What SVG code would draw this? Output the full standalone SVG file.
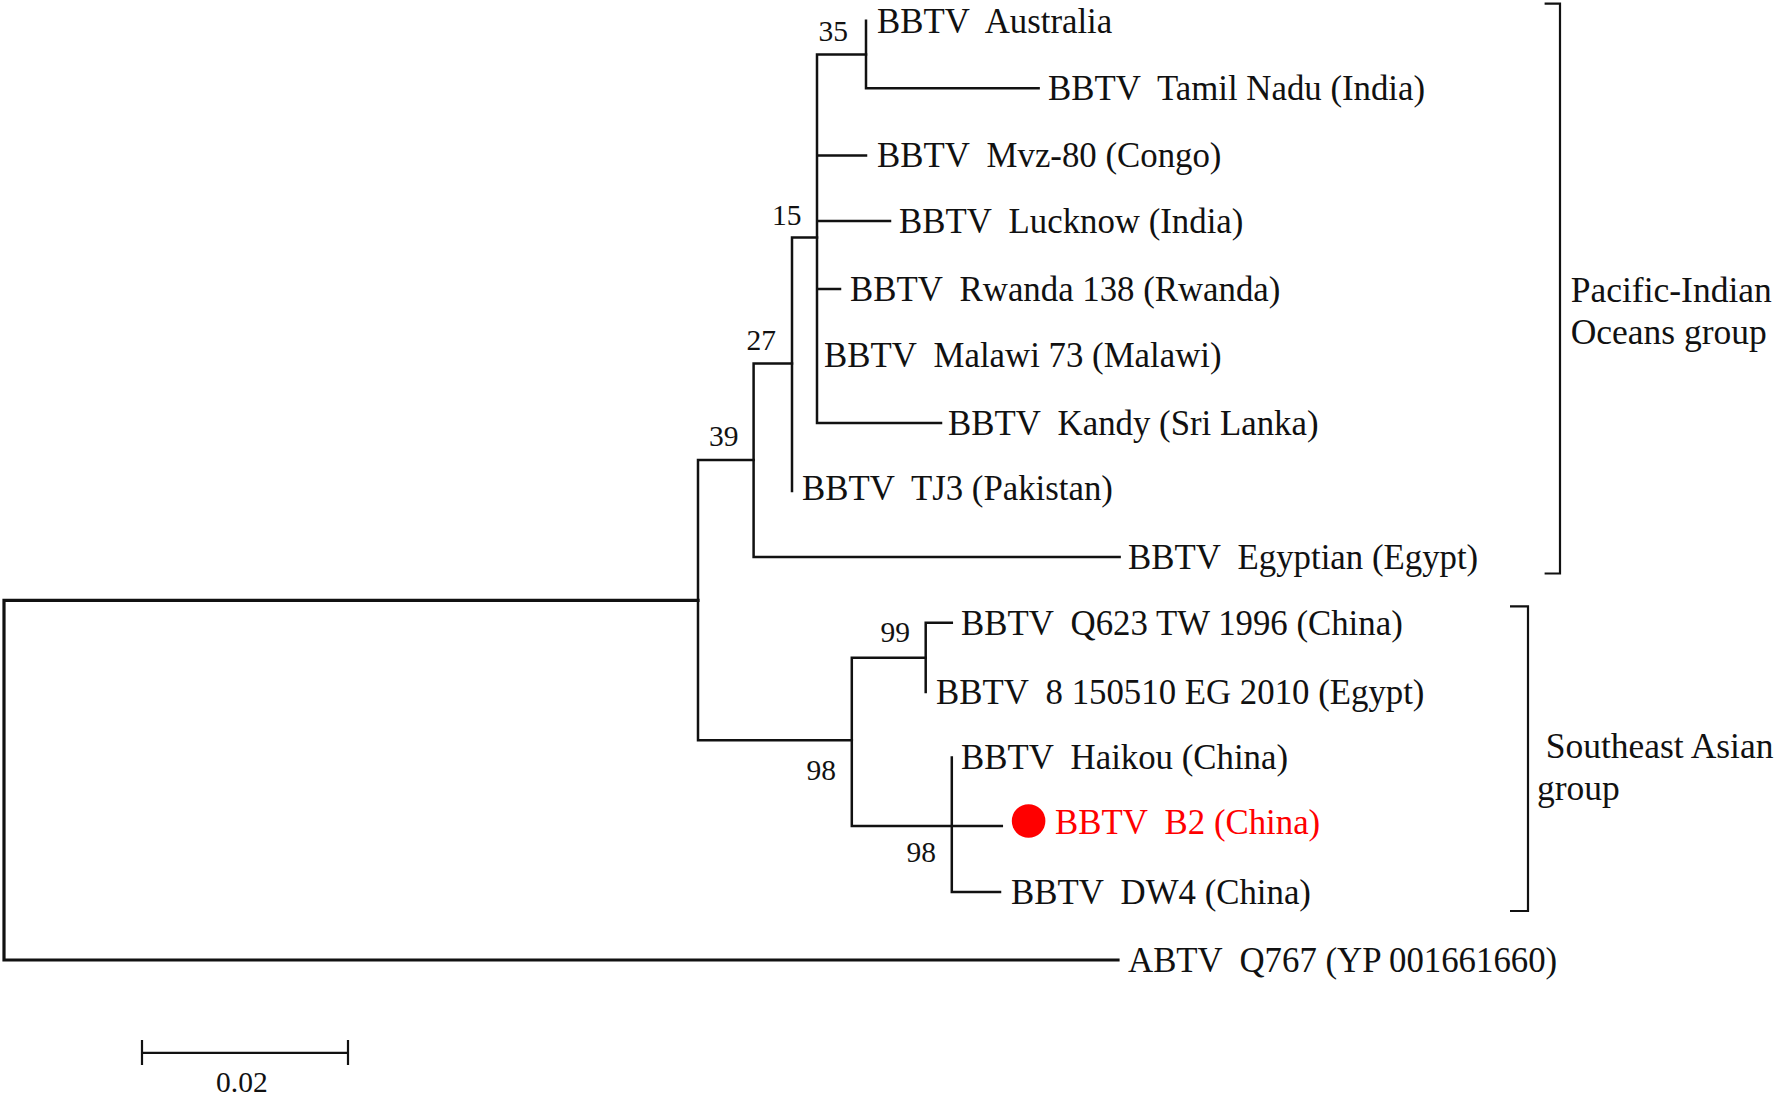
<svg xmlns="http://www.w3.org/2000/svg" width="1780" height="1096" viewBox="0 0 1780 1096">
<style>
.tx{font-family:"Liberation Serif","Times New Roman",serif;font-size:34.8px;fill:#111;}
.grp{font-family:"Liberation Serif","Times New Roman",serif;font-size:35.5px;fill:#111;}
.bs{font-family:"Liberation Serif","Times New Roman",serif;font-size:29.5px;fill:#111;}
.red{fill:#ff0000;}
.br{fill:none;stroke:#111;stroke-width:2.5;stroke-linecap:square;}
.rt{fill:none;stroke:#111;stroke-width:3.2;stroke-linecap:square;}
.bk{fill:none;stroke:#111;stroke-width:2.2;}
</style>
<rect width="1780" height="1096" fill="#fff"/>
<g id="connectors">
  <path class="rt" d="M4,600.3 V960 M4,600.3 H698 M4,960 H1118"/>
  <path class="br" d="M698,460 V740.3 M698,460 H753.6 M698,740.3 H851.8"/>
  <path class="br" d="M753.6,363.6 V557 M753.6,363.6 H792 M753.6,557 H1119.6"/>
  <path class="br" d="M792,237.5 V491 M792,237.5 H817"/>
  <path class="br" d="M817,54.6 V423 M817,54.6 H866 M817,155.4 H866 M817,221 H890 M817,289 H840 M817,423 H941"/>
  <path class="br" d="M866,20.7 V88.2 M866,88.2 H1038.6"/>
  <path class="br" d="M851.8,657.8 V826 M851.8,657.8 H925.7 M851.8,826 H1001.8"/>
  <path class="br" d="M925.7,622.8 V692 M925.7,622.8 H951.8"/>
  <path class="br" d="M951.8,757.4 V892 M951.8,892 H1000"/>
</g>
<g id="bootstrap">
  <text class="bs" x="818.6" y="41">35</text>
  <text class="bs" x="772" y="225">15</text>
  <text class="bs" x="746.4" y="350">27</text>
  <text class="bs" x="709" y="446.4">39</text>
  <text class="bs" x="880.4" y="642.4">99</text>
  <text class="bs" x="806.4" y="780">98</text>
  <text class="bs" x="906.4" y="862">98</text>
</g>
<g id="leaf-australia"><text class="tx" x="877" y="32.9" xml:space="preserve">BBTV  Australia</text></g>
<g id="leaf-tamilnadu"><text class="tx" x="1048" y="100" xml:space="preserve">BBTV  Tamil Nadu (India)</text></g>
<g id="leaf-mvz80"><text class="tx" x="877" y="167.4" xml:space="preserve">BBTV  Mvz-80 (Congo)</text></g>
<g id="leaf-lucknow"><text class="tx" x="899" y="233" xml:space="preserve">BBTV  Lucknow (India)</text></g>
<g id="leaf-rwanda"><text class="tx" x="850" y="301" xml:space="preserve">BBTV  Rwanda 138 (Rwanda)</text></g>
<g id="leaf-malawi"><text class="tx" x="824" y="367" xml:space="preserve">BBTV  Malawi 73 (Malawi)</text></g>
<g id="leaf-kandy"><text class="tx" x="948" y="435" xml:space="preserve">BBTV  Kandy (Sri Lanka)</text></g>
<g id="leaf-tj3"><text class="tx" x="802" y="500" xml:space="preserve">BBTV  TJ3 (Pakistan)</text></g>
<g id="leaf-egyptian"><text class="tx" x="1128" y="569" xml:space="preserve">BBTV  Egyptian (Egypt)</text></g>
<g id="leaf-q623"><text class="tx" x="961" y="635" xml:space="preserve">BBTV  Q623 TW 1996 (China)</text></g>
<g id="leaf-eg2010"><text class="tx" x="936" y="704" xml:space="preserve">BBTV  8 150510 EG 2010 (Egypt)</text></g>
<g id="leaf-haikou"><text class="tx" x="961" y="769" xml:space="preserve">BBTV  Haikou (China)</text></g>
<g id="leaf-b2">
  <circle cx="1028.6" cy="821" r="16.8" fill="#ff0000"/>
  <text class="tx red" x="1055" y="834" xml:space="preserve">BBTV  B2 (China)</text>
</g>
<g id="leaf-dw4"><text class="tx" x="1011" y="904" xml:space="preserve">BBTV  DW4 (China)</text></g>
<g id="leaf-abtv"><text class="tx" x="1128" y="972" xml:space="preserve">ABTV  Q767 (YP 001661660)</text></g>
<g id="group-pacific">
  <path class="bk" d="M1544.6,3.6 H1560 V573.5 H1544.6"/>
  <text class="grp" x="1570.7" y="302">Pacific-Indian</text>
  <text class="grp" x="1570.7" y="343.5">Oceans group</text>
</g>
<g id="group-southeast">
  <path class="bk" d="M1510,606.4 H1528 V911 H1510"/>
  <text class="grp" x="1545.7" y="758">Southeast Asian</text>
  <text class="grp" x="1537" y="800">group</text>
</g>
<g id="scale-bar">
  <path class="bk" d="M142,1052.8 H348 M142,1040 V1065 M348,1040 V1065"/>
  <text class="bs" x="216" y="1092">0.02</text>
</g>
</svg>
